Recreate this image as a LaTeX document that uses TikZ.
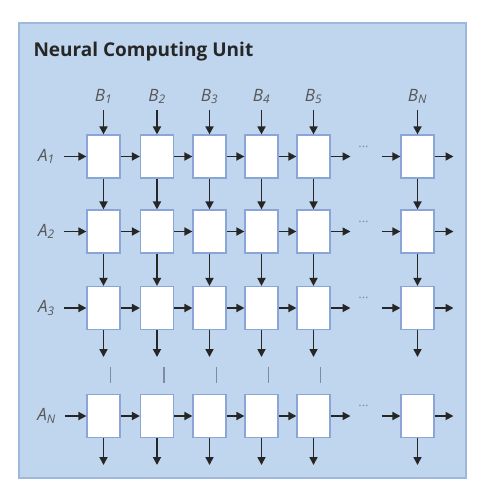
\documentclass[tikz,border=0pt]{standalone}
\usepackage{fontspec}
\setmainfont{Open Sans}
\usetikzlibrary{arrows.meta}
\definecolor{panelblue}{HTML}{BFD6EE}
\definecolor{paneledge}{HTML}{9CB8DA}
\definecolor{celledge}{HTML}{8BA6D6}
\definecolor{labelgray}{HTML}{575757}
\definecolor{gapgray}{HTML}{7D8CA3}
\newcommand{\sig}[2]{\textit{#1}\textsubscript{\textit{#2}}}
\tikzset{%
  panel/.style  = {fill=panelblue, draw=paneledge, line width=1.5pt},
  title/.style  = {anchor=west, text=black!85,
    font=\bfseries\fontsize{19}{19}\selectfont},
  pe/.style     = {draw=celledge, fill=white, line width=1.2pt,
    minimum width=33pt, minimum height=43pt, inner sep=0pt}, % Processing element
  signal/.style = {text=labelgray, font=\fontsize{17}{17}\selectfont},
  wire/.style   = {->, line width=1.7pt, black!85},
  gap/.style    = {text=gapgray, font=\fontsize{13}{13}\selectfont},
  vgap/.style   = {draw=gapgray, line width=1.1pt}
}
\begin{document}
\begin{tikzpicture}[x=1pt, y=-1pt, >={Triangle[length=8pt, width=8pt]}]
\useasboundingbox (0,0) rectangle (489,482);
\draw[panel] (19,23) rectangle (466,478);
\node[title] (title) at (30,52) {Neural Computing Unit};
% grid of processing elements, column 6 and row 4 are the N-th ones
\foreach \c/\x in {1/103.5, 2/157, 3/209.5, 4/261.5, 5/313.5, 6/417.5}
  \foreach \r/\y in {1/156.5, 2/231.5, 3/308, 4/416}
    \node[pe] (pe-\r-\c) at (\x,\y) {};
% column inputs
\foreach \c/\b in {1/1, 2/2, 3/3, 4/4, 5/5, 6/N} {
  \node[signal, above of=pe-1-\c, node distance=60pt] (b\c) {\sig{B}{\b}};
  \coordinate[below of=pe-3-\c, node distance=49pt] (down\c);
  \coordinate[below of=pe-4-\c, node distance=49pt] (out\c);
  \draw[wire, shorten <=3pt] (b\c) -- (pe-1-\c);
  \draw[wire] (pe-1-\c) -- (pe-2-\c);
  \draw[wire] (pe-2-\c) -- (pe-3-\c);
  \draw[wire] (pe-3-\c.south) -- (down\c);
  \draw[wire] (pe-4-\c.south) -- (out\c);
}
\foreach \c in {1,...,5}
  \draw[vgap] ([xshift=7pt]pe-3-\c.south) ++(0,37) -- ++(0,16);
% row inputs
\foreach \r/\a in {1/1, 2/2, 3/3, 4/N} {
  \node[signal, left of=pe-\r-1, node distance=57pt] (a\r) {\sig{A}{\a}};
  \coordinate[right of=pe-\r-5, node distance=37pt] (skip\r);
  \node[gap, right of=pe-\r-5, node distance=50pt, yshift=8pt] (dots\r) {···};
  \coordinate[left of=pe-\r-6, node distance=36pt] (resume\r);
  \coordinate[right of=pe-\r-6, node distance=36pt] (east\r);
  \draw[wire, shorten <=6pt] (a\r) -- (pe-\r-1);
  \foreach \c [count=\n from 2] in {1,...,4}
    \draw[wire] (pe-\r-\c) -- (pe-\r-\n);
  \draw[wire] (pe-\r-5) -- (skip\r);
  \draw[wire] (resume\r) -- (pe-\r-6);
  \draw[wire] (pe-\r-6) -- (east\r);
}
\end{tikzpicture}
\end{document}
